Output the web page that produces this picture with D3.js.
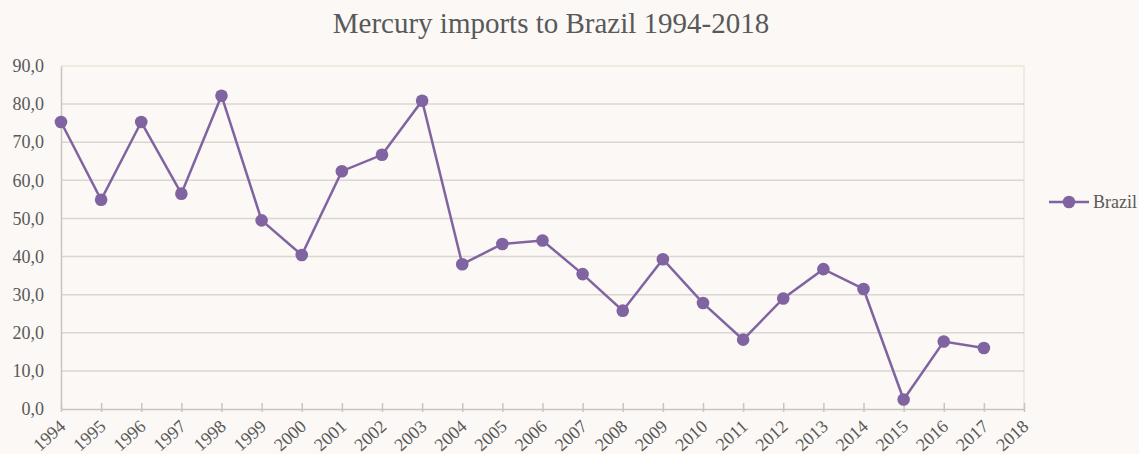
<!DOCTYPE html>
<html>
<head>
<meta charset="utf-8">
<script src="https://cdn.jsdelivr.net/npm/d3@7"></script>
<style>
  body { margin: 0; background: #fbf8f5; }
  svg { display: block; }
  text { font-family: "Liberation Serif", "DejaVu Serif", serif; fill: #595959; }
</style>
</head>
<body>
<script>
// data
var years = [1994, 1995, 1996, 1997, 1998, 1999, 2000, 2001, 2002, 2003, 2004, 2005,
             2006, 2007, 2008, 2009, 2010, 2011, 2012, 2013, 2014, 2015, 2016, 2017];
var brazil = [75.3, 54.9, 75.3, 56.5, 82.2, 49.5, 40.4, 62.4, 66.7, 80.9, 38.0, 43.3,
              44.2, 35.4, 25.8, 39.3, 27.8, 18.2, 29.0, 36.7, 31.5, 2.5, 17.7, 16.0];
var xTicks = d3.range(1994, 2019);
var yTicks = [0, 10, 20, 30, 40, 50, 60, 70, 80, 90];
var title = 'Mercury imports to Brazil 1994-2018';
var seriesName = 'Brazil';

var width = 1139, height = 454;
var margin = { top: 66, right: 115, bottom: 45, left: 61 };
var purple = '#8064a2';

var svg = d3.select('body').append('svg').attr('width', width).attr('height', height);

var x = d3.scaleLinear().domain([1994, 2018]).range([margin.left, width - margin.right]);
var y = d3.scaleLinear().domain([0, 90]).range([height - margin.bottom, margin.top]);

// plot frame (top/right, light beige)
svg.append('path')
  .attr('d', 'M' + x(1994) + ',' + y(90) + 'H' + x(2018) + 'V' + y(0))
  .attr('fill', 'none').attr('stroke', '#ebe6d6').attr('stroke-width', 1.5);

// gridlines
svg.append('g').selectAll('line')
  .data(yTicks.filter(function (d) { return d > 0 && d < 90; }))
  .enter().append('line')
  .attr('x1', x(1994)).attr('x2', x(2018))
  .attr('y1', function (d) { return y(d); }).attr('y2', function (d) { return y(d); })
  .attr('stroke', '#dad6d0').attr('stroke-width', 1.5);

// y axis
var yAxis = svg.append('g')
  .attr('transform', 'translate(' + x(1994) + ',0)')
  .call(d3.axisLeft(y).tickValues(yTicks).tickSize(0).tickPadding(17)
    .tickFormat(function (d) { return d3.format('.1f')(d).replace('.', ','); }));
yAxis.select('.domain').attr('stroke', '#c8c5c0').attr('stroke-width', 1.5);
yAxis.selectAll('text').style('font-size', '18px').attr('fill', '#595959');

// x axis
var xAxis = svg.append('g')
  .attr('transform', 'translate(0,' + y(0) + ')')
  .call(d3.axisBottom(x).tickValues(xTicks).tickSize(0).tickFormat(d3.format('d')));
xAxis.select('.domain').attr('stroke', '#c8c5c0').attr('stroke-width', 1.5);
xAxis.selectAll('.tick line')
  .attr('y1', -6).attr('y2', 3)
  .attr('stroke', '#c8c5c0').attr('stroke-width', 1.5);
xAxis.selectAll('text')
  .style('font-size', '18px').attr('fill', '#595959')
  .attr('text-anchor', 'end')
  .attr('dy', '0.35em')
  .attr('transform', 'translate(-1,12) rotate(-42)');

// line + markers
var line = d3.line()
  .x(function (d, i) { return x(years[i]); })
  .y(function (d) { return y(d); });

svg.append('path')
  .datum(brazil)
  .attr('d', line)
  .attr('fill', 'none').attr('stroke', purple).attr('stroke-width', 2.5);

svg.append('g').selectAll('circle')
  .data(brazil)
  .enter().append('circle')
  .attr('cx', function (d, i) { return x(years[i]); })
  .attr('cy', function (d) { return y(d); })
  .attr('r', 6.3)
  .attr('fill', purple);

// title
svg.append('text')
  .attr('x', 551).attr('y', 33)
  .attr('text-anchor', 'middle')
  .style('font-size', '29px')
  .text(title);

// legend
var lg = svg.append('g').attr('transform', 'translate(1049,202)');
lg.append('line').attr('x1', 0).attr('x2', 40).attr('stroke', purple).attr('stroke-width', 2.5);
lg.append('circle').attr('cx', 20).attr('r', 6.3).attr('fill', purple);
lg.append('text').attr('x', 44).attr('dy', '0.35em').style('font-size', '18px').text(seriesName);
</script>
</body>
</html>
